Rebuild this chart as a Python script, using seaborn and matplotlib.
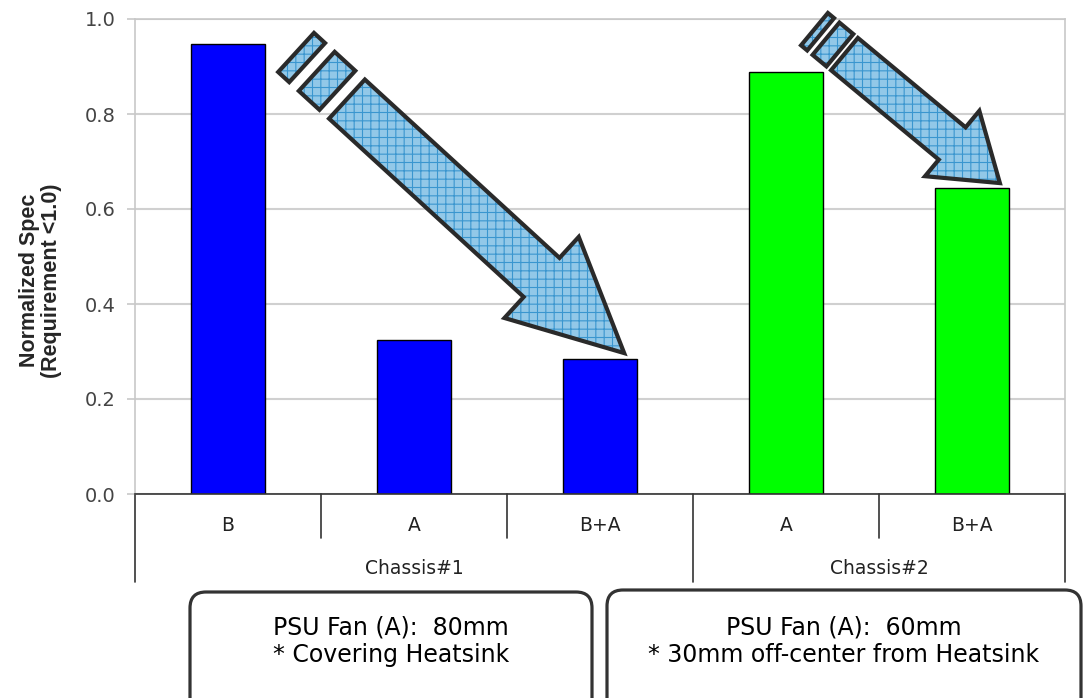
import numpy as np
import pandas as pd
import matplotlib
matplotlib.use('Agg')
import matplotlib.pyplot as plt
import matplotlib.patches as mpatches
import matplotlib.transforms as mtransforms
import seaborn as sns

# Settings
sns.set_style('white')
plt.rcParams['font.family'] = ['DejaVu Sans']
plt.rcParams['hatch.linewidth'] = 0.8

# ======================
# 1. DATA
# ======================
grupos = ['Chassis#1', 'Chassis#1', 'Chassis#1', 'Chassis#2', 'Chassis#2']
config = ['B', 'A', 'B+A', 'A', 'B+A']
valores = [0.947, 0.324, 0.284, 0.888, 0.644]
cores = ['#0000ff', '#00ff00']
yticks = [0.0, 0.2, 0.4, 0.6, 0.8, 1.0]
ylabel = 'Normalized Spec\n(Requirement <1.0)'
notas = ['PSU Fan (A):  80mm\n* Covering Heatsink',
         'PSU Fan (A):  60mm\n* 30mm off-center from Heatsink']

df = pd.DataFrame({'grupo': grupos, 'config': config, 'valor': valores})
df['slot'] = df['grupo'] + '|' + df['config']

W, H = 1084, 698
fig = plt.figure(figsize=(W / 100, H / 100), dpi=100)
ax = fig.add_axes([135 / W, 1 - 494 / H, 930 / W, 475 / H])

# ======================
# 2. BARS
# ======================
sns.barplot(data=df, x='slot', y='valor', hue='grupo', palette=cores,
            saturation=1, width=0.4, dodge=False, edgecolor='black',
            linewidth=1, legend=False, ax=ax)
ax.set_xlim(-0.5, len(config) - 0.5)
ax.set_ylim(0, 1)
ax.set_yticks(yticks)
ax.set_yticklabels([f'{t:.1f}' for t in yticks])
ax.yaxis.grid(True, color='#d0d0d0', lw=1.5)
ax.set_axisbelow(True)
ax.set_xticks([])
ax.set_xlabel('')
for s in ['left', 'right', 'top']:
    ax.spines[s].set_color('#c8c8c8')
    ax.spines[s].set_linewidth(1.2)
ax.spines['bottom'].set_color('#333333')
ax.spines['bottom'].set_linewidth(1.2)
ax.tick_params(axis='y', left=True, length=6, width=1.2, color='#c8c8c8',
               labelsize=14, labelcolor='#444444', pad=8)
ax.set_ylabel(ylabel, fontsize=15.5, fontweight='bold', family='Liberation Sans',
              linespacing=1.1)
ax.yaxis.set_label_coords(-0.078, 0.45)

# category axis (two levels)
tr = mtransforms.blended_transform_factory(ax.transData, ax.transAxes)
n = len(config)
for i in range(n + 1):
    longo = i == 0 or i == n or grupos[i] != grupos[i - 1]
    ax.plot([i - 0.5, i - 0.5], [0, -0.185 if longo else -0.093], transform=tr,
            color='#333333', lw=1.2, clip_on=False)
for i, c in enumerate(config):
    ax.text(i, -0.066, c, transform=tr, ha='center', va='center',
            fontsize=13.5, color='#222222')
for g in dict.fromkeys(grupos):
    pos = [i for i, gg in enumerate(grupos) if gg == g]
    ax.text(np.mean(pos), -0.156, g, transform=tr, ha='center', va='center',
            fontsize=13.5, color='#222222')

# ======================
# 3. ARROWS
# ======================
def seta(x, y, dy, comp, ang, haste, cabeca, ponta, blocos):
    a = np.radians(ang)
    d = np.array([np.cos(a), -np.sin(a)])
    nv = np.array([np.sin(a), np.cos(a)])

    def pts(lst):
        return [tuple(-s * d + t * nv + np.array([0, dy])) for s, t in lst]

    corpo = [(0, 0), (ponta, cabeca / 2), (ponta, haste / 2), (comp, haste / 2),
             (comp, -haste / 2), (ponta, -haste / 2), (ponta, -cabeca / 2)]
    formas = [pts(corpo)]
    s0 = comp
    for gap, esp in blocos:
        s1 = s0 + gap
        s2 = s1 + esp
        formas.append(pts([(s1, haste / 2), (s2, haste / 2), (s2, -haste / 2), (s1, -haste / 2)]))
        s0 = s2
    trans = mtransforms.Affine2D() + mtransforms.ScaledTranslation(x, y, ax.transData)
    for f in formas:
        ax.add_patch(mpatches.Polygon(f, closed=True, transform=trans, facecolor='#92c8e8',
                                      edgecolor='#3a96cf', hatch='++', lw=0, clip_on=False, zorder=5))
        ax.add_patch(mpatches.Polygon(f, closed=True, transform=trans, facecolor='none',
                                      edgecolor='#2a2a2a', lw=3, joinstyle='miter',
                                      clip_on=False, zorder=6))

seta(2 + 0.13, valores[2], 6, 376, 42.5, 53, 110, 112, [(13, 28), (13, 15)])
seta(4 + 0.15, valores[4], 5, 202, 39.7, 42, 85, 62, [(6, 18), (7, 8)])

# ======================
# 4. NOTE BOXES
# ======================
ident = mtransforms.IdentityTransform()
caixas = [(190, 592, 402), (607, 590, 474)]
for (x0, y0, w), nota in zip(caixas, notas):
    fig.add_artist(mpatches.FancyBboxPatch((x0, -40), w, H - y0 + 40,
                                           boxstyle='round,pad=0,rounding_size=16',
                                           transform=ident, lw=2.3, edgecolor='#333333',
                                           facecolor='white'))
    fig.text(x0 + w / 2, H - 641, nota, transform=ident, ha='center', va='center',
             fontsize=17, linespacing=1.2, color='black')

fig.savefig('out.png', dpi=100)
